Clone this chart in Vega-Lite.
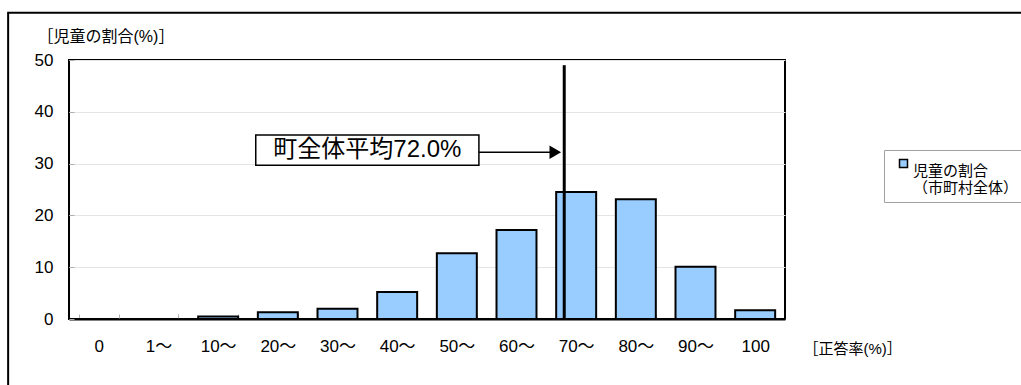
{
  "$schema": "https://vega.github.io/schema/vega-lite/v6.json",
  "width": 716,
  "height": 259,
  "autosize": {"type": "none"},
  "padding": {"left": 69, "top": 60, "right": 236, "bottom": 66},
  "background": "white",
  "config": {
    "font": "Liberation Sans, Noto Sans CJK JP",
    "view": {"stroke": "black", "strokeWidth": 2},
    "axis": {"labelColor": "black", "titleColor": "black", "titleFontWeight": "normal"}
  },
  "layer": [
    {
      "data": {"values": [
        {"range": "0", "ratio": 0},
        {"range": "1～", "ratio": 0},
        {"range": "10～", "ratio": 0.5},
        {"range": "20～", "ratio": 1.3},
        {"range": "30～", "ratio": 2.0},
        {"range": "40～", "ratio": 5.2},
        {"range": "50～", "ratio": 12.7},
        {"range": "60～", "ratio": 17.2},
        {"range": "70～", "ratio": 24.5},
        {"range": "80～", "ratio": 23.1},
        {"range": "90～", "ratio": 10.1},
        {"range": "100", "ratio": 1.7}
      ]},
      "mark": {"type": "bar", "stroke": "black", "strokeWidth": 2, "clip": false},
      "encoding": {
        "x": {
          "field": "range", "type": "nominal", "sort": null,
          "scale": {"paddingInner": 0.33, "paddingOuter": 0.165},
          "axis": {
            "title": "［正答率(%)］", "labelAngle": 0, "labelFontSize": 17, "labelPadding": 24,
            "tickBand": "extent", "tickSize": -5, "tickColor": "#b0b0b0", "tickWidth": 1,
            "domainColor": "black", "domainWidth": 2, "grid": false,
            "titleX": 734, "titleY": 29, "titleAlign": "left", "titleBaseline": "middle", "titleFontSize": 15
          }
        },
        "y": {
          "field": "ratio", "type": "quantitative",
          "scale": {"domain": [0, 50], "nice": false},
          "axis": {
            "title": "［児童の割合(%)］", "values": [0, 10, 20, 30, 40, 50],
            "grid": true, "gridColor": "#e4e4e4", "domain": false,
            "tickSize": -5, "tickColor": "#b0b0b0",
            "labelFontSize": 17, "labelPadding": 21,
            "titleAngle": 0, "titleX": -32, "titleY": -23.5, "titleAlign": "left", "titleBaseline": "middle", "titleFontSize": 16
          }
        },
        "color": {
          "datum": "児童の割合", "type": "nominal",
          "scale": {"range": ["#99ccff"]},
          "legend": {
            "title": null, "orient": "none", "legendX": 815, "legendY": 90,
            "labelExpr": "['児童の割合', '（市町村全体）']",
            "labelFontSize": 15, "labelBaseline": "top", "labelLimit": 200, "labelOffset": 2,
            "symbolType": "square", "symbolSize": 64, "symbolStrokeColor": "black", "symbolStrokeWidth": 1.5,
            "strokeColor": "#a0a0a0", "fillColor": "white", "padding": 6, "symbolOffset": 6
          }
        }
      }
    },
    {
      "data": {"values": [{"mean": 72.0, "label": "町全体平均72.0%"}]},
      "layer": [
        {
          "mark": {"type": "rect", "fill": null, "fillOpacity": 0, "stroke": "black", "strokeWidth": 2, "clip": false},
          "encoding": {
            "x": {"datum": -21.2, "type": "quantitative", "scale": {"domain": [-11, 109], "nice": false, "zero": false}, "axis": null},
            "x2": {"datum": 150},
            "y": {"datum": 59.1, "type": "quantitative", "scale": {"domain": [0, 50], "nice": false}},
            "y2": {"datum": -15}
          }
        },
        {
          "mark": {"type": "rule", "stroke": "black", "strokeWidth": 3, "clip": false},
          "encoding": {
            "x": {"field": "mean", "type": "quantitative", "scale": {"domain": [-11, 109], "nice": false, "zero": false}, "axis": null},
            "y": {"datum": 0, "type": "quantitative", "scale": {"domain": [0, 50], "nice": false}},
            "y2": {"datum": 49}
          }
        },
        {
          "mark": {"type": "rect", "fill": "white", "stroke": "black", "strokeWidth": 1.5, "clip": false},
          "encoding": {
            "x": {"datum": 20.3, "type": "quantitative", "scale": {"domain": [-11, 109], "nice": false, "zero": false}, "axis": null},
            "x2": {"datum": 57.7},
            "y": {"datum": 29.7, "type": "quantitative", "scale": {"domain": [0, 50], "nice": false}},
            "y2": {"datum": 35.5}
          }
        },
        {
          "mark": {"type": "text", "fontSize": 24, "color": "black", "align": "center", "baseline": "middle", "clip": false},
          "encoding": {
            "x": {"datum": 39, "type": "quantitative", "scale": {"domain": [-11, 109], "nice": false, "zero": false}, "axis": null},
            "y": {"datum": 32.6, "type": "quantitative", "scale": {"domain": [0, 50], "nice": false}},
            "text": {"field": "label"}
          }
        },
        {
          "mark": {"type": "rule", "stroke": "black", "strokeWidth": 1.5, "clip": false},
          "encoding": {
            "x": {"datum": 57.7, "type": "quantitative", "scale": {"domain": [-11, 109], "nice": false, "zero": false}, "axis": null},
            "x2": {"datum": 70.5},
            "y": {"datum": 32.2, "type": "quantitative", "scale": {"domain": [0, 50], "nice": false}}
          }
        },
        {
          "mark": {"type": "point", "shape": "triangle-right", "filled": true, "color": "black", "opacity": 1, "size": 180, "clip": false},
          "encoding": {
            "x": {"datum": 70.5, "type": "quantitative", "scale": {"domain": [-11, 109], "nice": false, "zero": false}, "axis": null},
            "y": {"datum": 32.2, "type": "quantitative", "scale": {"domain": [0, 50], "nice": false}}
          }
        }
      ]
    }
  ],
  "resolve": {"scale": {"x": "independent"}, "axis": {"x": "independent"}}
}
